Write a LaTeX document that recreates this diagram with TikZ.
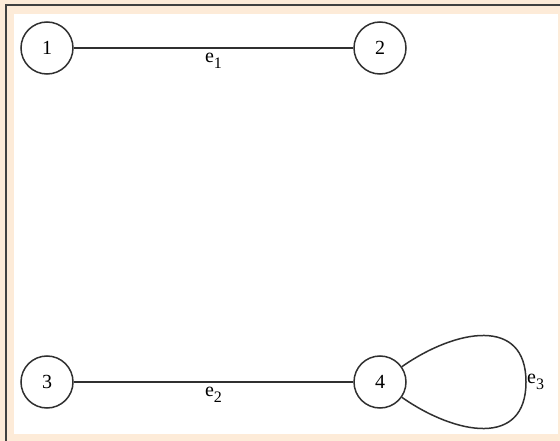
\documentclass[tikz,border=0pt]{standalone}
\usepackage{fontspec}
\setmainfont{Liberation Serif}
\definecolor{peach}{HTML}{FDEBD8}
\definecolor{frame}{HTML}{404040}
\definecolor{ink}{HTML}{303030}
\newcommand{\elab}[1]{e\raisebox{-0.32em}{\fontsize{16}{16}\selectfont #1}}
\begin{document}
\begin{tikzpicture}[x=1pt,y=-1pt,
  vertex/.style={circle,draw=ink,line width=1.5pt,minimum size=52pt,inner sep=0pt,fill=white,font=\fontsize{20}{22}\selectfont},
  edge/.style={draw=ink,line width=1.5pt},
  elabel/.style={font=\fontsize{20}{22}\selectfont,inner sep=1pt}]
\useasboundingbox (0,0) rectangle (560,441);
\fill[peach] (0,0) rectangle (560,441);
\fill[white] (14,14) rectangle (558,434);
\draw[frame,line width=1.5pt] (6,441) -- (6,5) -- (560,5);
\node[vertex] (n1) at (47,48) {1};
\node[vertex] (n2) at (380,48) {2};
\node[vertex] (n3) at (47,382) {3};
\node[vertex] (n4) at (380,382) {4};
\draw[edge] (n1) -- node[elabel,below=3pt] {\elab{1}} (n2);
\draw[edge] (n3) -- node[elabel,below=3pt] {\elab{2}} (n4);
\coordinate (r) at (526,382);
\draw[edge] (n4.35) to[out=35,in=90,looseness=1.35] (r) to[out=-90,in=-35,looseness=1.35] (n4.-35);
\node[elabel,anchor=west] (e3) at (r) {\elab{3}};
\end{tikzpicture}
\end{document}
